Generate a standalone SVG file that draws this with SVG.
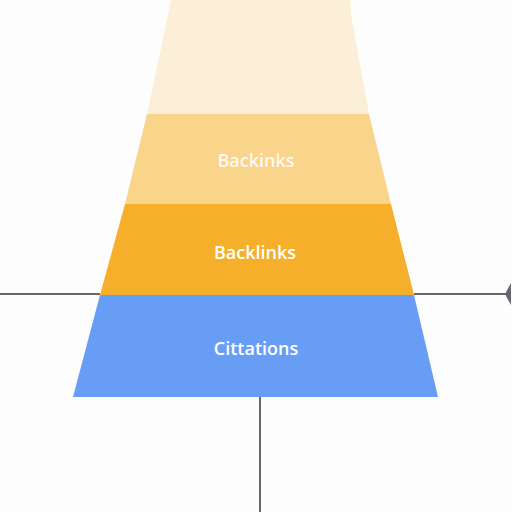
<svg xmlns="http://www.w3.org/2000/svg" width="512" height="512" viewBox="0 0 512 512">
<style>
.lbl{font-family:"Open Sans","Liberation Sans",sans-serif;font-size:18px;font-weight:600;fill:#ffffff;text-anchor:middle}
.conn{stroke:#6a6470;stroke-width:2;fill:none}
</style>
<rect width="512" height="512" fill="#fdfdfd"/>
<g id="tier1">
<path d="M171,0 L350,0 L352,20 L369,114 L147,114 L167,20 Z" fill="#fcefd8"/>
</g>
<g id="tier2">
<path d="M147,114 L369,114 L391,204 L125,204 Z" fill="#f9d58c"/>
<text class="lbl" x="256" y="167" fill-opacity="0.9">Backinks</text>
</g>
<g id="tier3">
<path d="M125,204 L391,204 L414,295 L100,295 Z" fill="#f6af2a"/>
<text class="lbl" x="255" y="259">Backlinks</text>
</g>
<g id="tier4">
<path d="M100,295 L414,295 L438,397 L73,397 Z" fill="#689df5"/>
<text class="lbl" x="256" y="355">Cittations</text>
</g>
<g id="connectors">
<line class="conn" x1="0" y1="294" x2="100" y2="294"/>
<line class="conn" x1="414" y1="294" x2="508" y2="294"/>
<path d="M511,283 L505,294 L511,305 Z" fill="#6a6470"/>
<line class="conn" x1="260" y1="397" x2="260" y2="512"/>
</g>
</svg>
